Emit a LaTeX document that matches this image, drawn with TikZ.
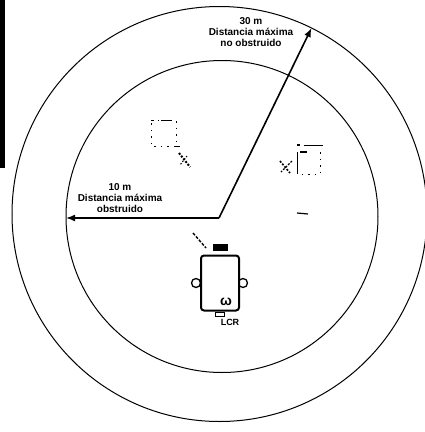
\documentclass[tikz,border=0pt]{standalone}
\usepackage{fontspec}
\setmainfont{Liberation Sans}
\usetikzlibrary{arrows.meta,positioning}
\tikzset{
  ring/.style={draw,circle,inner sep=0pt,line width=1pt},
  rangetext/.style={align=center,font=\fontsize{10}{11}\selectfont\bfseries,inner sep=0pt},
  rangeline/.style={-{Latex[length=9pt,width=7pt]},line width=1.6pt},
  faint/.style={line width=0.8pt,dash pattern=on 1.5pt off 5pt},
  solidblock/.style={fill=black,draw=none,inner sep=0pt},
  earnode/.style={draw,circle,line width=1.3pt,minimum size=9pt,inner sep=0pt}
}
\begin{document}
\begin{tikzpicture}[x=1pt,y=-1pt]
\useasboundingbox (0,0) rectangle (425,432);
\node[solidblock,minimum width=5pt,minimum height=168pt] (bar) at (2.5,84) {};
\node[ring,minimum size=415pt] (outer) at (219.5,214) {};
\node[ring,minimum size=312pt] (inner) at (222,216.5) {};
\coordinate (hub) at (219,218);
\coordinate (farrim) at (311.5,28);
\coordinate (nearrim) at (66,218);
\draw[rangeline] (hub) -- (farrim);
\draw[rangeline] (hub) -- (nearrim);
\node[rangetext] (farlabel) at (251,32) {30 m\\Distancia máxima\\no obstruido};
\node[rangetext] (nearlabel) at (120,198) {10 m\\Distancia máxima\\obstruido};
% control unit
\node[earnode] (earl) at (196,283) {};
\node[earnode] (earr) at (243,283) {};
\node[draw,fill=white,line width=2pt,rounded corners=3pt,minimum width=38pt,minimum height=55pt,inner sep=0pt] (unit) at (220,283) {};
\node[solidblock,minimum width=15pt,minimum height=7pt,above=3pt of unit] (block) {};
\node[font=\bfseries\fontsize{14}{14}\selectfont,inner sep=0pt] (coil) at (226,302) {ω};
\node[draw,minimum width=9pt,minimum height=4pt,inner sep=0pt,below=0pt of unit] (tab) {};
\node[font=\fontsize{9}{9}\selectfont\bfseries,inner sep=0pt] (lcr) at (230,322) {LCR};
\coordinate (aerialtop) at (193,233);
\coordinate (aerialend) at (206,248);
\draw[line width=1.4pt,dash pattern=on 3pt off 1.5pt] (aerialtop) -- (aerialend);
% left unit, nearly lost
\coordinate (la) at (151,120);
\coordinate (lb) at (176,120);
\coordinate (lc) at (176,146);
\coordinate (ld) at (151,146);
\draw[faint] (la) -- (lb) -- (lc) -- (ld) -- cycle;
\draw[line width=1.2pt] (152,120.5) -- (154,120.5) (161,120.5) -- (171,120.5) (175,146.5) -- (180,146.5);
\coordinate (lp) at (179,153);
\coordinate (lq) at (190,167);
\draw[line width=2pt,dash pattern=on 2pt off 1.5pt] (lp) -- (lq);
\draw[line width=1pt,dash pattern=on 1.5pt off 1.5pt] (187,156) -- (180,165);
% right unit, nearly lost
\coordinate (ra) at (297,152);
\coordinate (rb) at (320,152);
\coordinate (rc) at (320,174);
\coordinate (rd) at (297,174);
\draw[faint] (rb) -- (rc) -- (rd);
\draw[line width=0.9pt] (ra) -- (rd);
\draw[line width=1.2pt] (297,145) -- (300,145) (304,145.5) -- (323,145.5) (300,152) -- (307,152);
\coordinate (rp) at (280,161);
\coordinate (rq) at (290,173);
\draw[line width=1.6pt,dash pattern=on 2pt off 1.5pt] (rp) -- (rq);
\draw[line width=1.2pt,dash pattern=on 2pt off 1.5pt] (292,161) -- (281,172);
\draw[line width=1.2pt] (297,213) -- (308,214);
\end{tikzpicture}
\end{document}
